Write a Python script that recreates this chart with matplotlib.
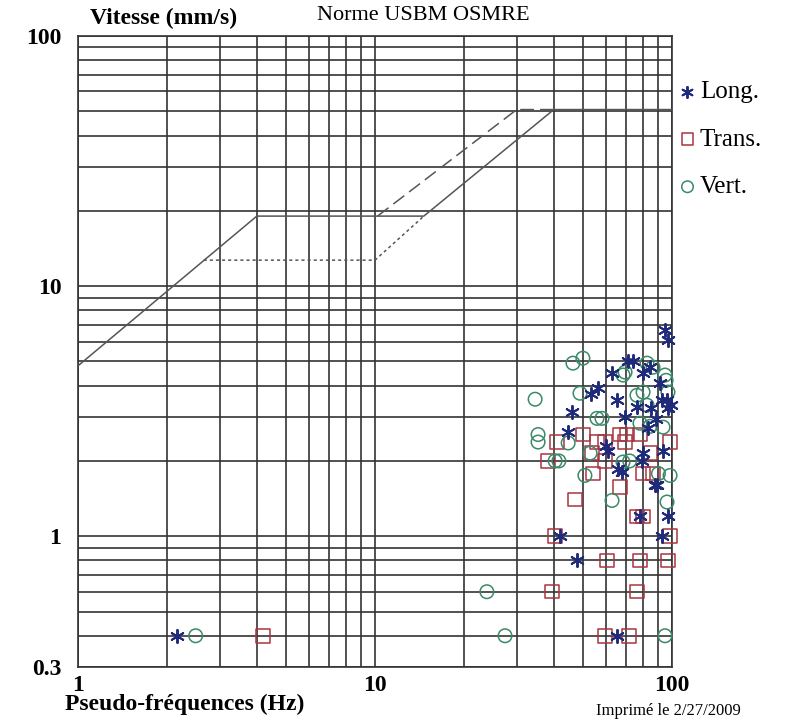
import matplotlib.pyplot as plt
from matplotlib.ticker import FixedLocator, NullFormatter, LogLocator

plt.rcParams['font.family'] = ['Liberation Serif', 'DejaVu Serif']

# limit curves (Hz, mm/s)
solid_f = [1, 4, 14.6, 40, 100]
solid_v = [4.8, 19.05, 19.05, 50.8, 50.8]
dash_f = [10.2, 30, 40]
dash_v = [19.05, 50.8, 50.8]
dot_f = [2.65, 10, 14.6]
dot_v = [12.7, 12.7, 19.05]

# measured peaks
long_f = [2.15, 65.3, 47.9, 42.0, 92.5, 78.0, 96.9, 87.6, 68.0, 79.3,
          60.9, 93.3, 44.7, 69.5, 46.0, 76.2, 83.0, 53.5, 56.3, 65.3,
          62.8, 71.1, 73.9, 79.9, 84.3, 91.1, 92.5, 99.0, 96.2, 96.9,
          94.7, 96.9, 85.0, 88.0, 60.0, 80.0, 66.0, 89.0]
long_v = [0.4, 0.4, 0.8, 1.0, 1.0, 1.2, 1.2, 1.6, 1.8, 2.0,
          2.2, 2.2, 2.6, 3.0, 3.15, 3.3, 2.7, 3.7, 3.9, 3.5,
          4.5, 5.0, 5.0, 4.5, 4.75, 4.1, 3.5, 3.35, 3.5, 3.25,
          6.7, 6.1, 3.25, 2.95, 2.3, 2.15, 1.85, 1.6]

trans_f = [4.2, 59.5, 71.7, 39.4, 76.2, 60.4, 78.0, 97.0, 40.4, 98.5,
           76.2, 80.0, 47.1, 66.8, 79.9, 86.3, 54.2, 38.2, 59.5, 53.8,
           84.3, 41.0, 55.9, 59.5, 69.5, 98.5, 50.1, 66.8, 70.5, 78.0]
trans_v = [0.4, 0.4, 0.4, 0.6, 0.6, 0.8, 0.8, 0.8, 1.0, 1.0,
           1.2, 1.2, 1.4, 1.57, 1.78, 1.78, 1.78, 2.0, 2.0, 2.15,
           2.15, 2.38, 2.38, 2.38, 2.38, 2.38, 2.55, 2.55, 2.55, 2.55]

vert_f = [2.49, 27.4, 94.7, 23.8, 34.6, 35.4, 35.4, 40.4, 41.6, 44.7,
          46.4, 50.1, 49.0, 55.9, 58.1, 68.4, 50.9, 62.8, 68.4, 79.9,
          76.2, 94.7, 96.9, 93.3, 98.5, 96.2, 90.0, 82.4, 86.3, 69.5,
          82.4, 78.0, 84.3, 53.0, 72.0, 95.5]
vert_v = [0.4, 0.4, 0.4, 0.6, 3.53, 2.55, 2.38, 2.0, 2.0, 2.36,
          4.92, 5.15, 3.73, 2.96, 2.96, 4.41, 1.75, 1.39, 1.98, 3.77,
          3.66, 4.41, 3.77, 2.73, 1.75, 1.37, 1.78, 4.92, 4.74, 4.53,
          3.34, 2.83, 2.75, 2.15, 2.0, 4.2]

fig = plt.figure(figsize=(7.87, 7.2), dpi=100)
ax = fig.add_axes([0.0991, 0.0736, 0.7548, 0.8764])
ax.set_xscale('log')
ax.set_yscale('log')
ax.set_xlim(1, 100)
ax.set_ylim(0.3, 100)

gc = '#333333'
ax.xaxis.set_major_locator(FixedLocator([1, 10, 100]))
ax.xaxis.set_minor_locator(LogLocator(base=10, subs=range(2, 10)))
ax.yaxis.set_major_locator(FixedLocator([0.3, 1, 10, 100]))
ax.yaxis.set_minor_locator(LogLocator(base=10, subs=range(2, 10)))
ax.xaxis.set_minor_formatter(NullFormatter())
ax.yaxis.set_minor_formatter(NullFormatter())
ax.set_xticklabels(['1', '10', '100'])
ax.set_yticklabels(['0.3', '1', '10', '100'])
ax.grid(which='both', color=gc, lw=1.2)
ax.tick_params(which='both', length=0)
ax.tick_params(axis='x', pad=6, labelsize=17)
ax.tick_params(axis='y', pad=12, labelsize=17)
for lab in ax.get_xticklabels() + ax.get_yticklabels():
    lab.set_fontweight('bold')
for sp in ax.spines.values():
    sp.set_color(gc)
    sp.set_linewidth(1.2)

ax.plot(solid_f, solid_v, color='#555555', lw=1.1, zorder=3)
ax.plot(dash_f, dash_v, color='#555555', lw=1.1, dashes=(9, 4), zorder=3)
ax.plot(dot_f, dot_v, color='#555555', lw=1.1, dashes=(2, 2), zorder=3)

ax.scatter(long_f, long_v, marker=(6, 2, 0), s=90, color='#1f2a7a',
           linewidths=1.4, zorder=5, label='Long.', clip_on=False)
ax.scatter(trans_f, trans_v, marker='s', s=95, facecolors='none',
           edgecolors='#a8343f', linewidths=1.1, zorder=4, label='Trans.',
           clip_on=False)
ax.scatter(vert_f, vert_v, marker='o', s=95, facecolors='none',
           edgecolors='#3a8a68', linewidths=1.1, zorder=4, label='Vert.',
           clip_on=False)

ax.legend(loc='upper left', bbox_to_anchor=(1.005, 0.929), frameon=False,
          fontsize=18, handletextpad=0.0, labelspacing=1.0,
          handlelength=1.0, borderaxespad=0.0, borderpad=0.0,
          markerscale=0.85)

fig.text(0.1145, 0.975, 'Vitesse (mm/s)', fontsize=17, fontweight='bold',
         va='center', ha='left')
fig.text(0.403, 0.979, 'Norme USBM OSMRE', fontsize=16, va='center', ha='left')
fig.text(0.083, 0.021, 'Pseudo-fréquences (Hz)', fontsize=17,
         fontweight='bold', va='center', ha='left')
fig.text(0.757, 0.002, 'Imprimé le 2/27/2009', fontsize=12,
         va='bottom', ha='left')

fig.savefig('out.png', dpi=100)
